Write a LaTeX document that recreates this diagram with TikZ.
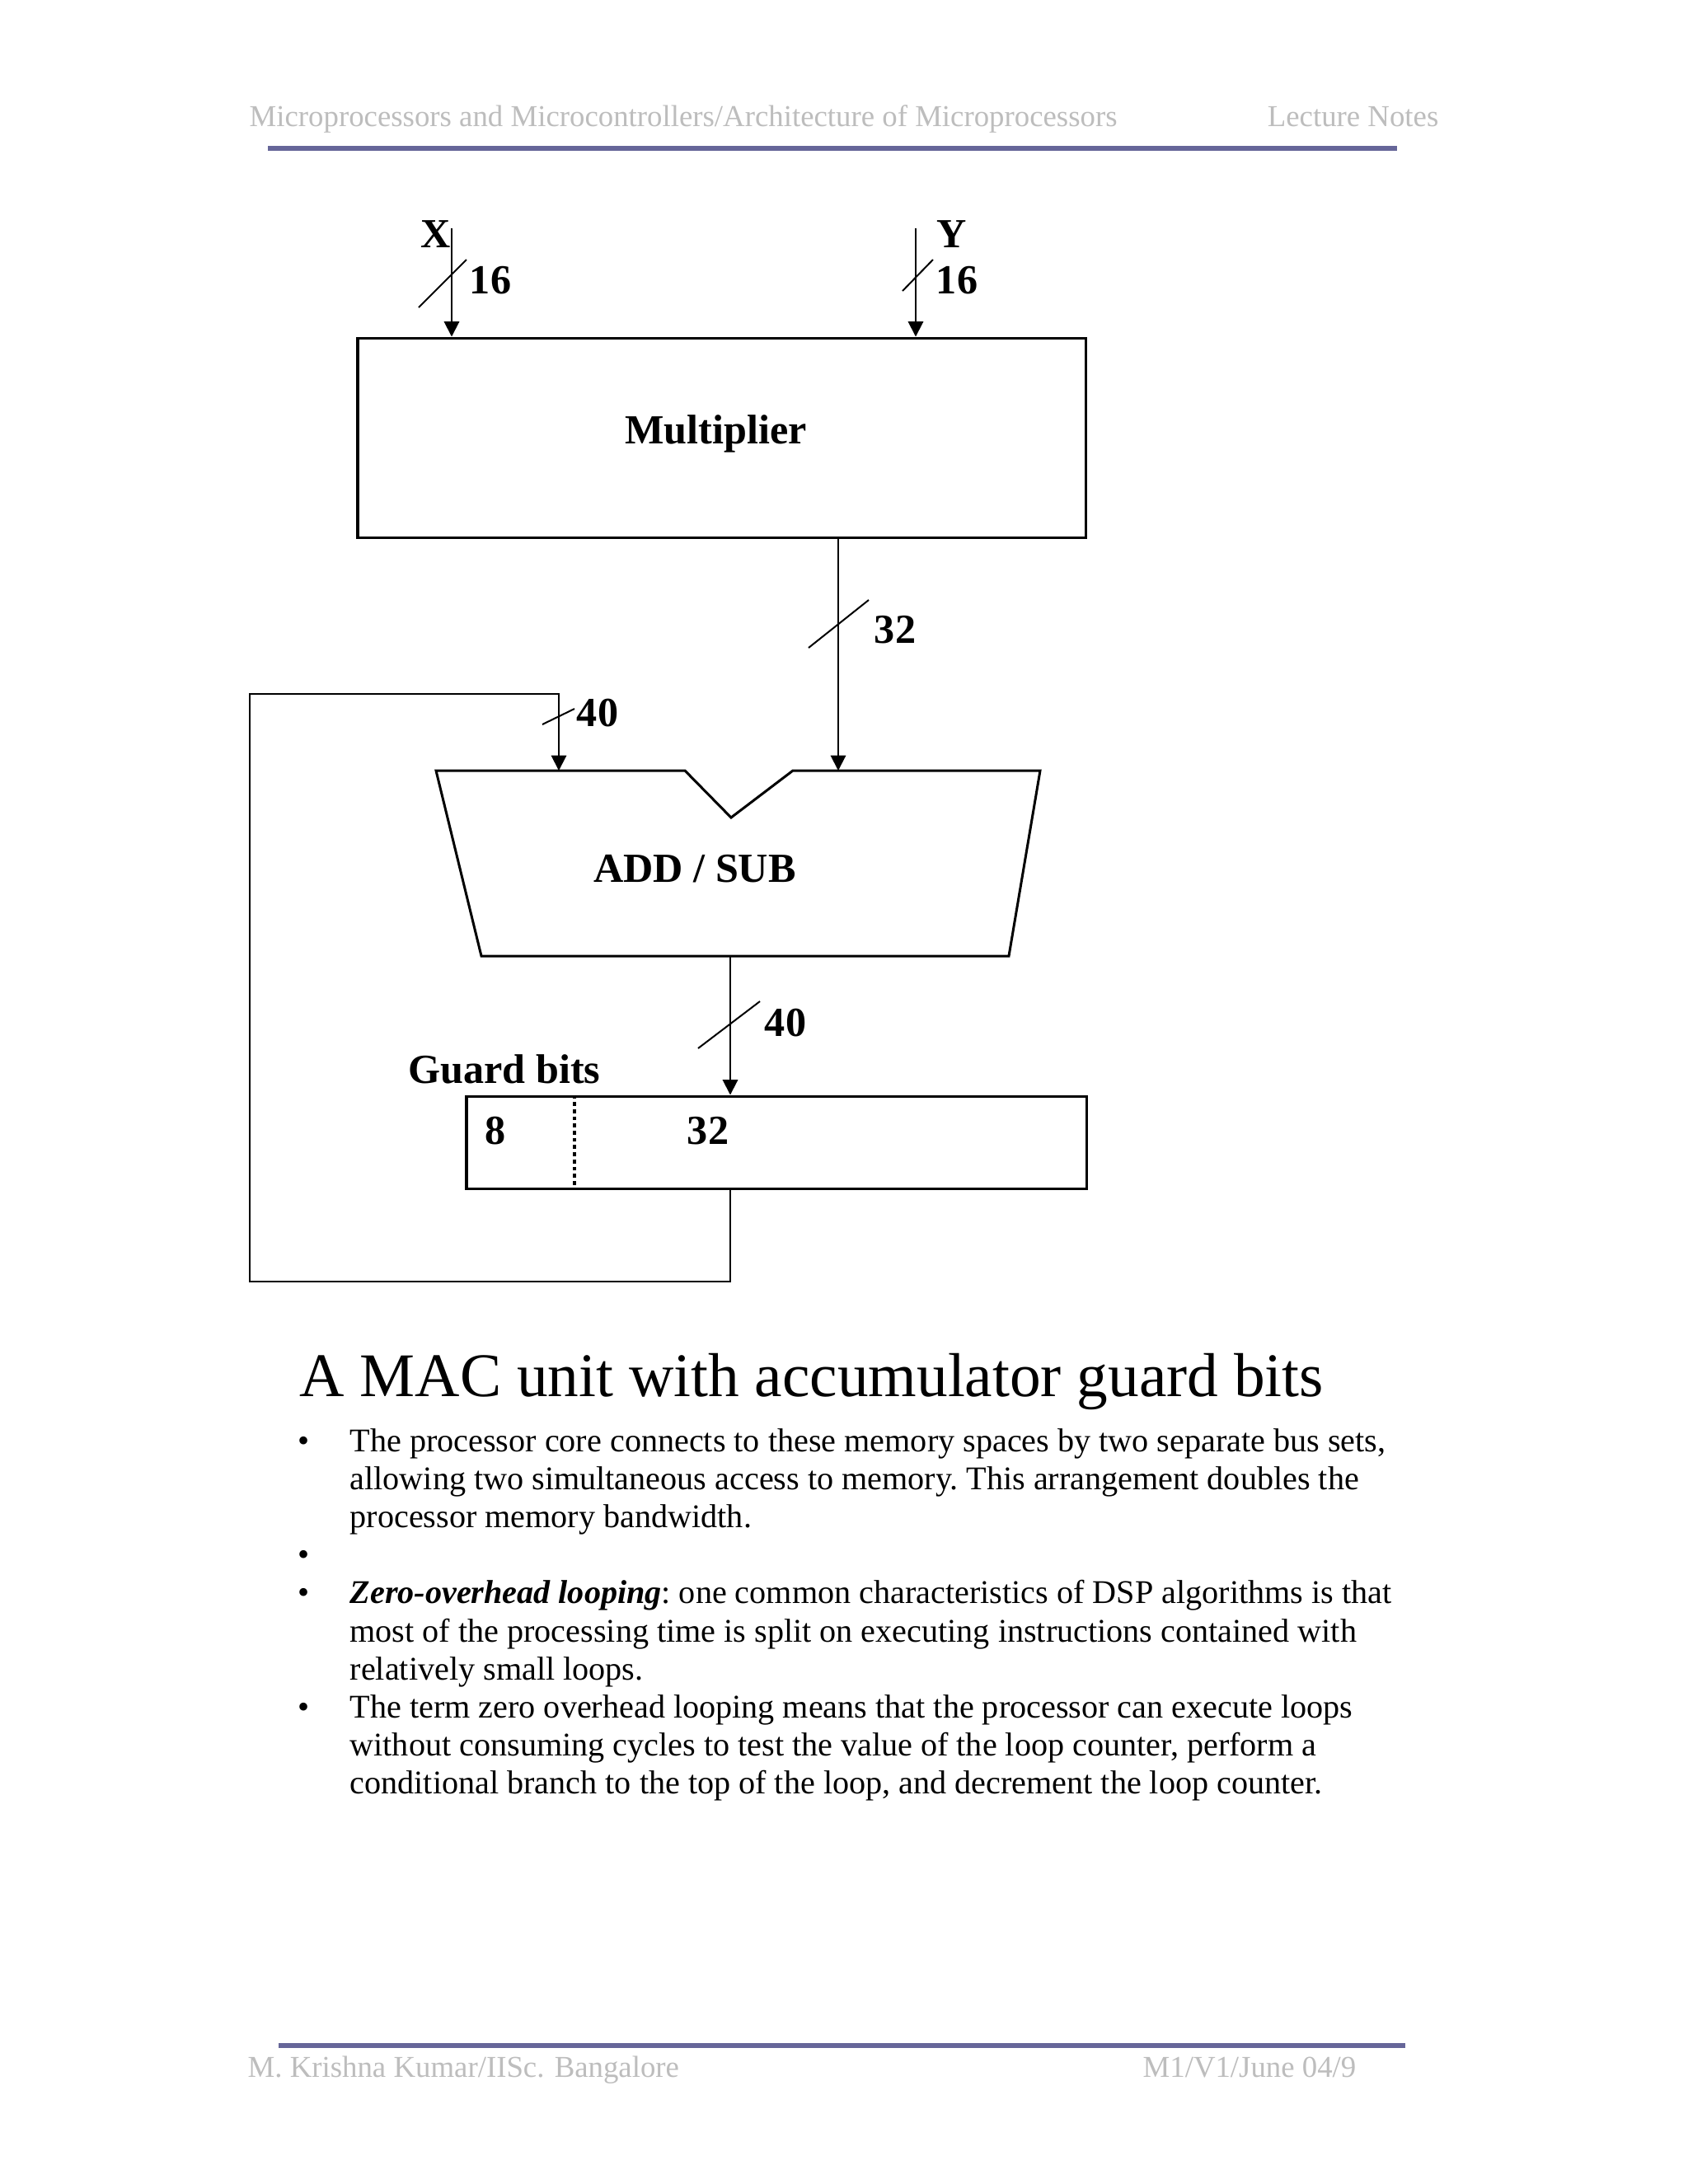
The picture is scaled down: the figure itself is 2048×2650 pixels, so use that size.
\documentclass[tikz,border=0pt]{standalone}
\usepackage{fontspec}
\setmainfont{Liberation Serif}
\usetikzlibrary{arrows.meta, calc}
\definecolor{clrborder}{HTML}{000000}
\definecolor{clrrule}{HTML}{666699}
\definecolor{clrhead}{HTML}{BDBDBD}
\newcommand{\pxu}{0.29883pt}
\newcommand{\bodysp}{\frenchspacing\spaceskip=3pt plus 1pt minus 0.5pt\relax}

\begin{document}
\begin{tikzpicture}[
    x=\pxu, y=-\pxu,
    >={Triangle[length=5.5pt, width=5.5pt]},
    every node/.style={inner sep=0pt},
    block/.style={draw=clrborder, line width=0.9pt},
    arrow/.style={->, color=clrborder, line width=0.6pt},
    bus/.style={color=clrborder, line width=0.6pt},
    label/.style={font=\fontsize{15}{18}\selectfont\bfseries},
    head/.style={font=\fontsize{11}{13}\selectfont, text=clrhead},
    rule/.style={line width=2pt, color=clrrule},
    bullet/.style={anchor=base, font=\fontsize{12}{13.8}\selectfont},
    body/.style={anchor=base west, font=\fontsize{12}{13.8}\selectfont, execute at begin node=\bodysp,
                 text width=1340*\pxu, align=left},
]
\useasboundingbox (0,0) rectangle (2048,2650);
\fill[white] (0,0) rectangle (2048,2650);

% page header
\node[head, anchor=base west] (n_head_l) at (302,153) {Microprocessors and Microcontrollers/Architecture of Microprocessors};
\node[head, anchor=base east] (n_head_r) at (1746,153) {Lecture Notes};
\draw[rule] (325,180) -- (1695,180);

% multiplier
\node[block, minimum width=883*\pxu, minimum height=242*\pxu] (n_mult) at (875.5,531) {};
\node[label] (n_mult_lbl) at ([shift={(-7,-5)}]n_mult.center) {Multiplier};
\coordinate (c_xin) at (548,277);
\coordinate (c_yin) at (1111,277);
\node[label] (n_x) at (529,284) {X};
\node[label] (n_y) at (1155,284) {Y};
\draw[arrow] (c_xin) -- (c_xin |- n_mult.north);
\draw[arrow] (c_yin) -- (c_yin |- n_mult.north);
\coordinate (c_xbus) at (548,334);
\coordinate (c_ybus) at (1111,334);
\draw[bus] ([shift={(-40,39)}]c_xbus) -- ++(58,-58);
\draw[bus] ([shift={(-16,19)}]c_ybus) -- ++(37,-38);
\node[label] (n_x_w) at (595,340) {16};
\node[label] (n_y_w) at (1161,340) {16};

% add / sub
\draw[block] (529,935) -- (831,935) -- (887,992) -- (962,935) -- (1262,935) -- (1224,1160) -- (584,1160) -- cycle;
\node[label] (n_add) at (843,1054) {ADD / SUB};
\coordinate (c_add_a) at (678,935);
\coordinate (c_add_b) at (1017,935);
\coordinate (c_add_out) at (886,1160);
\draw[arrow] (n_mult.south -| c_add_b) -- (c_add_b);
\coordinate (c_mbus) at (1017,757);
\draw[bus] ([shift={(-36,29)}]c_mbus) -- ++(73,-58);
\node[label] (n_m_w) at (1086,764) {32};

% accumulator
\node[block, minimum width=752*\pxu, minimum height=112*\pxu] (n_acc) at (942,1386) {};
\coordinate (c_guard) at (697,1386);
\draw[color=clrborder, line width=1.1pt, dash pattern=on 1.4pt off 1.2pt] (c_guard |- n_acc.north) -- (c_guard |- n_acc.south);
\node[label] (n_g8) at (601,1372) {8};
\node[label] (n_g32) at (859,1372) {32};
\node[label] (n_guard) at (612,1297) {Guard bits};
\draw[arrow] (c_add_out) -- (c_add_out |- n_acc.north);
\coordinate (c_obus) at (886,1243);
\draw[bus] ([shift={(-39,29)}]c_obus) -- ++(75,-57);
\node[label] (n_o_w) at (953,1241) {40};

% feedback
\coordinate (c_fb_bl) at (303,1555);
\coordinate (c_fb_tl) at (303,842);
\draw[arrow] (n_acc.south -| c_add_out) |- (c_fb_bl) -- (c_fb_tl) -| (c_add_a);
\coordinate (c_fbus) at (678,869);
\draw[bus] ([shift={(-20,10)}]c_fbus) -- ++(39,-19);
\node[label] (n_fb_w) at (725,865) {40};

% caption and notes
\node[anchor=base west, font=\fontsize{22.5}{27}\selectfont] (n_title) at (363,1694) {A MAC unit with accumulator guard bits};
\node[bullet] (n_b1) at (369,1761) {\textbullet};
\node[body] (n_t1) at (424,1761) {The processor core connects to these memory spaces by two separate bus sets,\\ allowing two simultaneous access to memory. This arrangement doubles the\\ processor memory bandwidth.};
\node[bullet] (n_b2) at (369,1899.6) {\textbullet};
\node[bullet] (n_b3) at (369,1945.8) {\textbullet};
\node[body] (n_t3) at (424,1945.8) {\textbf{\textit{Zero-overhead looping}}: one common characteristics of DSP algorithms is that\\ most of the processing time is split on executing instructions contained with\\ relatively small loops.};
\node[bullet] (n_b4) at (369,2084.4) {\textbullet};
\node[body] (n_t4) at (424,2084.4) {The term zero overhead looping means that the processor can execute loops\\ without consuming cycles to test the value of the loop counter, perform a\\ conditional branch to the top of the loop, and decrement the loop counter.};

% page footer
\draw[rule] (338,2482) -- (1705,2482);
\node[head, anchor=base west] (n_foot_l) at (300,2520) {M. Krishna Kumar/IISc. Bangalore};
\node[head, anchor=base east] (n_foot_r) at (1646,2520) {M1/V1/June 04/9};
\end{tikzpicture}
\end{document}
